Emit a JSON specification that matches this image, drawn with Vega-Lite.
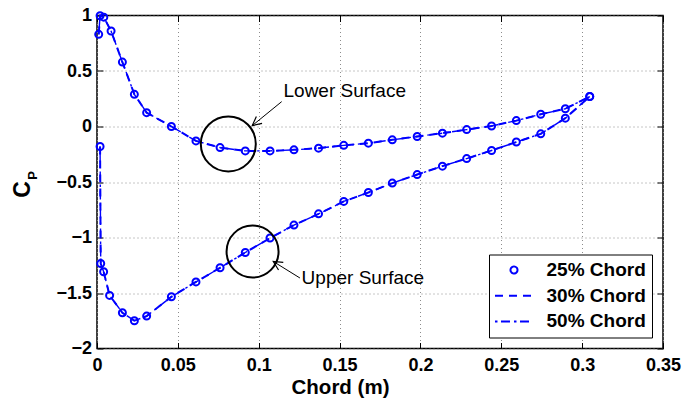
{
  "$schema": "https://vega.github.io/schema/vega-lite/v6.json",
  "width": 566,
  "height": 333,
  "autosize": "none",
  "padding": {"left": 97, "top": 15.5, "right": 22, "bottom": 53.5},
  "background": "white",
  "datasets": {
    "cp": [
      {"surface": "lower", "i": 0, "x": 0.00105, "cp": 0.83},
      {"surface": "lower", "i": 1, "x": 0.0019, "cp": 0.998},
      {"surface": "lower", "i": 2, "x": 0.0042, "cp": 0.985},
      {"surface": "lower", "i": 3, "x": 0.0087, "cp": 0.86},
      {"surface": "lower", "i": 4, "x": 0.0157, "cp": 0.58},
      {"surface": "lower", "i": 5, "x": 0.0231, "cp": 0.29},
      {"surface": "lower", "i": 6, "x": 0.0307, "cp": 0.125},
      {"surface": "lower", "i": 7, "x": 0.046, "cp": 0.0},
      {"surface": "lower", "i": 8, "x": 0.0612, "cp": -0.13},
      {"surface": "lower", "i": 9, "x": 0.0761, "cp": -0.19},
      {"surface": "lower", "i": 10, "x": 0.0917, "cp": -0.22},
      {"surface": "lower", "i": 11, "x": 0.107, "cp": -0.22},
      {"surface": "lower", "i": 12, "x": 0.1218, "cp": -0.21},
      {"surface": "lower", "i": 13, "x": 0.137, "cp": -0.195},
      {"surface": "lower", "i": 14, "x": 0.1526, "cp": -0.17},
      {"surface": "lower", "i": 15, "x": 0.1678, "cp": -0.15},
      {"surface": "lower", "i": 16, "x": 0.1826, "cp": -0.12},
      {"surface": "lower", "i": 17, "x": 0.198, "cp": -0.09},
      {"surface": "lower", "i": 18, "x": 0.2136, "cp": -0.06},
      {"surface": "lower", "i": 19, "x": 0.2286, "cp": -0.028},
      {"surface": "lower", "i": 20, "x": 0.244, "cp": 0.005},
      {"surface": "lower", "i": 21, "x": 0.2593, "cp": 0.053},
      {"surface": "lower", "i": 22, "x": 0.2744, "cp": 0.11},
      {"surface": "lower", "i": 23, "x": 0.2896, "cp": 0.16},
      {"surface": "lower", "i": 24, "x": 0.3047, "cp": 0.27},
      {"surface": "upper", "i": 0, "x": 0.0019, "cp": -0.18},
      {"surface": "upper", "i": 1, "x": 0.0023, "cp": -1.234},
      {"surface": "upper", "i": 2, "x": 0.0041, "cp": -1.309},
      {"surface": "upper", "i": 3, "x": 0.0078, "cp": -1.522},
      {"surface": "upper", "i": 4, "x": 0.0157, "cp": -1.678},
      {"surface": "upper", "i": 5, "x": 0.0231, "cp": -1.75},
      {"surface": "upper", "i": 6, "x": 0.0307, "cp": -1.708},
      {"surface": "upper", "i": 7, "x": 0.046, "cp": -1.534},
      {"surface": "upper", "i": 8, "x": 0.0612, "cp": -1.4},
      {"surface": "upper", "i": 9, "x": 0.0761, "cp": -1.273},
      {"surface": "upper", "i": 10, "x": 0.0917, "cp": -1.135},
      {"surface": "upper", "i": 11, "x": 0.107, "cp": -1.005},
      {"surface": "upper", "i": 12, "x": 0.1218, "cp": -0.888},
      {"surface": "upper", "i": 13, "x": 0.137, "cp": -0.787},
      {"surface": "upper", "i": 14, "x": 0.1526, "cp": -0.675},
      {"surface": "upper", "i": 15, "x": 0.1678, "cp": -0.595},
      {"surface": "upper", "i": 16, "x": 0.1826, "cp": -0.51},
      {"surface": "upper", "i": 17, "x": 0.198, "cp": -0.433},
      {"surface": "upper", "i": 18, "x": 0.2136, "cp": -0.357},
      {"surface": "upper", "i": 19, "x": 0.2286, "cp": -0.289},
      {"surface": "upper", "i": 20, "x": 0.244, "cp": -0.216},
      {"surface": "upper", "i": 21, "x": 0.2593, "cp": -0.14},
      {"surface": "upper", "i": 22, "x": 0.2744, "cp": -0.066},
      {"surface": "upper", "i": 23, "x": 0.2896, "cp": 0.075},
      {"surface": "upper", "i": 24, "x": 0.3047, "cp": 0.27}
    ],
    "labels": [
      {"label": "Lower Surface", "x": 0.1532, "cp": 0.269},
      {"label": "Upper Surface", "x": 0.1644, "cp": -1.417}
    ],
    "arrows": [
      {"x": 0.1142, "cp": 0.224, "x2": 0.096, "cp2": 0.008},
      {"x": 0.1255, "cp": -1.365, "x2": 0.109, "cp2": -1.216}
    ]
  },
  "config": {
    "font": "Liberation Sans",
    "view": {"stroke": "black", "strokeWidth": 1.5},
    "axis": {
      "labelFont": "Liberation Sans",
      "labelFontSize": 18,
      "labelFontWeight": "bold",
      "labelColor": "black",
      "labelFlush": false,
      "labelOverlap": false,
      "domain": false,
      "tickColor": "black",
      "tickSize": -6,
      "tickWidth": 1,
      "gridColor": "#8c8c8c",
      "gridDash": [1, 3],
      "gridWidth": 1,
      "gridOpacity": 1,
      "titleFont": "Liberation Sans",
      "titleFontWeight": "bold",
      "titleColor": "black"
    },
    "legend": {
      "orient": "bottom-right",
      "offset": 11,
      "padding": 6,
      "strokeColor": "black",
      "fillColor": "white",
      "labelFont": "Liberation Sans",
      "labelFontSize": 19,
      "labelFontWeight": "bold",
      "labelColor": "black",
      "symbolSize": 49,
      "symbolStrokeWidth": 2,
      "symbolStrokeColor": "#0000ff",
      "symbolOffset": 9.5,
      "labelOffset": 23,
      "rowPadding": 5.7
    }
  },
  "layer": [
    {
      "data": {"name": "cp"},
      "mark": {"type": "line", "color": "#0000ff", "strokeWidth": 2},
      "encoding": {
        "x": {
          "field": "x", "type": "quantitative",
          "scale": {"domain": [0, 0.35], "nice": false, "zero": false},
          "axis": {
            "orient": "bottom",
            "values": [0, 0.05, 0.1, 0.15, 0.2, 0.25, 0.3, 0.35],
            "format": "~g",
            "grid": true,
            "labelPadding": 14,
            "title": "Chord (m)",
            "titleFontSize": 20.5,
            "titleX": 243,
            "titleY": 44.5,
            "titleAlign": "center",
            "titleBaseline": "alphabetic"
          }
        },
        "y": {
          "field": "cp", "type": "quantitative",
          "scale": {"domain": [-2, 1], "nice": false, "zero": false},
          "axis": {
            "orient": "left",
            "values": [-2, -1.5, -1, -0.5, 0, 0.5, 1],
            "format": "~g",
            "grid": true,
            "labelPadding": 11.5,
            "labelBaseline": "middle",
            "title": "C",
            "titleFontSize": 23,
            "titleAngle": 270,
            "titleX": -75,
            "titleY": 173.5,
            "titleAlign": "center",
            "titleBaseline": "middle"
          }
        },
        "detail": {"field": "surface"},
        "order": {"field": "i", "type": "quantitative"},
        "strokeDash": {
          "datum": "30% Chord",
          "scale": {
            "domain": ["25% Chord", "30% Chord", "50% Chord"],
            "range": [[1, 0], [8, 6], [2.5, 3.5, 9, 4]]
          },
          "legend": {"title": null}
        }
      }
    },
    {
      "data": {"name": "cp"},
      "mark": {"type": "line", "color": "#0000ff", "strokeWidth": 1.4},
      "encoding": {
        "x": {"field": "x", "type": "quantitative", "axis": null},
        "y": {"field": "cp", "type": "quantitative", "axis": null},
        "detail": {"field": "surface"},
        "order": {"field": "i", "type": "quantitative"},
        "strokeDash": {"datum": "50% Chord", "legend": {"title": null}}
      }
    },
    {
      "data": {"name": "cp"},
      "mark": {"type": "point", "filled": false, "color": "#0000ff", "strokeWidth": 2, "size": 49, "opacity": 1},
      "encoding": {
        "x": {
          "field": "x", "type": "quantitative",
          "axis": {"orient": "top", "values": [0, 0.05, 0.1, 0.15, 0.2, 0.25, 0.3, 0.35], "labels": false, "title": null, "grid": false}
        },
        "y": {
          "field": "cp", "type": "quantitative",
          "axis": {"orient": "right", "values": [-2, -1.5, -1, -0.5, 0, 0.5, 1], "labels": false, "title": null, "grid": false}
        },
        "shape": {
          "datum": "25% Chord",
          "scale": {
            "domain": ["25% Chord", "30% Chord", "50% Chord"],
            "range": ["circle", "M-5.43,0H5.43", "M-5.43,0H5.43"]
          },
          "legend": {"title": null}
        }
      }
    },
    {
      "data": {"values": [{"x": 0.0812, "cp": -0.157}]},
      "mark": {"type": "point", "shape": "circle", "filled": false, "color": "black", "strokeWidth": 2, "size": 3025, "opacity": 1},
      "encoding": {
        "x": {"field": "x", "type": "quantitative", "axis": null},
        "y": {"field": "cp", "type": "quantitative", "axis": null}
      }
    },
    {
      "data": {"values": [{"x": 0.0962, "cp": -1.126}]},
      "mark": {"type": "point", "shape": "circle", "filled": false, "color": "black", "strokeWidth": 2, "size": 2704, "opacity": 1},
      "encoding": {
        "x": {"field": "x", "type": "quantitative", "axis": null},
        "y": {"field": "cp", "type": "quantitative", "axis": null}
      }
    },
    {
      "data": {"name": "arrows"},
      "mark": {"type": "rule", "color": "black", "strokeWidth": 1},
      "encoding": {
        "x": {"field": "x", "type": "quantitative", "axis": null},
        "y": {"field": "cp", "type": "quantitative", "axis": null},
        "x2": {"field": "x2"},
        "y2": {"field": "cp2"}
      }
    },
    {
      "data": {"values": [{"x": 0.096, "cp": 0.008}]},
      "mark": {"type": "point", "shape": "M-1,-0.5L0,0L-1,0.5", "filled": false, "color": "black", "strokeWidth": 1.2, "size": 324, "angle": 140.8, "opacity": 1},
      "encoding": {
        "x": {"field": "x", "type": "quantitative", "axis": null},
        "y": {"field": "cp", "type": "quantitative", "axis": null}
      }
    },
    {
      "data": {"values": [{"x": 0.109, "cp": -1.216}]},
      "mark": {"type": "point", "shape": "M-1,-0.5L0,0L-1,0.5", "filled": false, "color": "black", "strokeWidth": 1.2, "size": 324, "angle": 211.9, "opacity": 1},
      "encoding": {
        "x": {"field": "x", "type": "quantitative", "axis": null},
        "y": {"field": "cp", "type": "quantitative", "axis": null}
      }
    },
    {
      "data": {"name": "labels"},
      "mark": {"type": "text", "font": "Liberation Sans", "fontSize": 19, "color": "black", "align": "center", "baseline": "alphabetic"},
      "encoding": {
        "x": {"field": "x", "type": "quantitative", "axis": null},
        "y": {"field": "cp", "type": "quantitative", "axis": null},
        "text": {"field": "label"}
      }
    },
    {
      "data": {"values": [{"sub": "P", "x": -0.0393, "cp": -0.44}]},
      "mark": {"type": "text", "font": "Liberation Sans", "fontSize": 13, "fontWeight": "bold", "color": "black", "angle": 270, "align": "center", "baseline": "middle"},
      "encoding": {
        "x": {"field": "x", "type": "quantitative", "axis": null},
        "y": {"field": "cp", "type": "quantitative", "axis": null},
        "text": {"field": "sub"}
      }
    }
  ],
  "resolve": {"axis": {"x": "independent", "y": "independent"}}
}
